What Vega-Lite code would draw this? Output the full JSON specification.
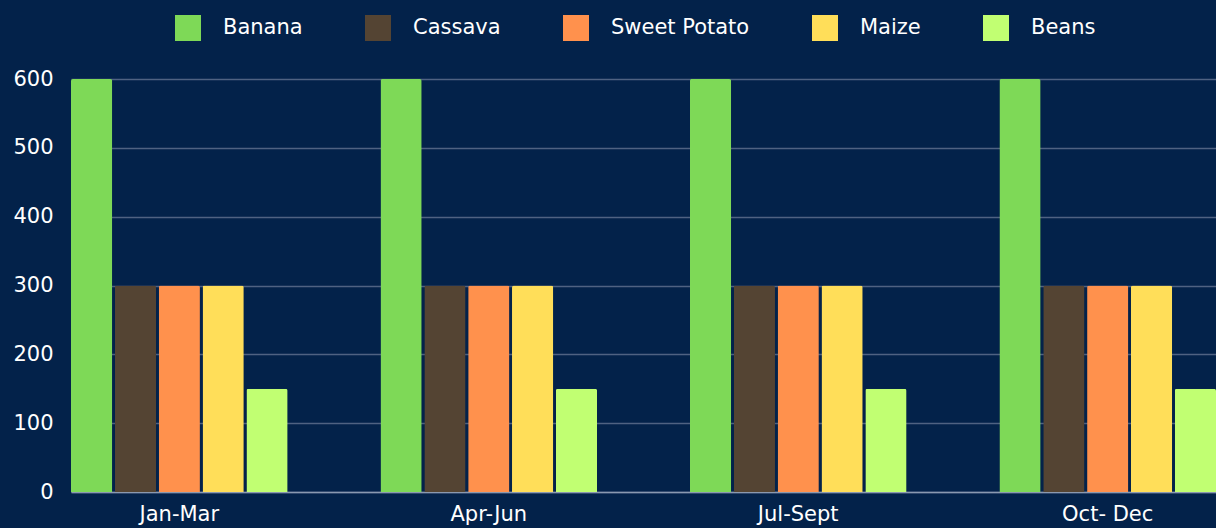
{
  "$schema": "https://vega.github.io/schema/vega-lite/v6.json",
  "width": 1145,
  "height": 413,
  "autosize": {"type": "none"},
  "padding": {"left": 71, "top": 79, "right": 0, "bottom": 36},
  "background": "#03224a",
  "data": {
    "values": [
      {"quarter": "Jan-Mar", "crop": "Banana", "value": 600},
      {"quarter": "Jan-Mar", "crop": "Cassava", "value": 300},
      {"quarter": "Jan-Mar", "crop": "Sweet Potato", "value": 300},
      {"quarter": "Jan-Mar", "crop": "Maize", "value": 300},
      {"quarter": "Jan-Mar", "crop": "Beans", "value": 150},
      {"quarter": "Apr-Jun", "crop": "Banana", "value": 600},
      {"quarter": "Apr-Jun", "crop": "Cassava", "value": 300},
      {"quarter": "Apr-Jun", "crop": "Sweet Potato", "value": 300},
      {"quarter": "Apr-Jun", "crop": "Maize", "value": 300},
      {"quarter": "Apr-Jun", "crop": "Beans", "value": 150},
      {"quarter": "Jul-Sept", "crop": "Banana", "value": 600},
      {"quarter": "Jul-Sept", "crop": "Cassava", "value": 300},
      {"quarter": "Jul-Sept", "crop": "Sweet Potato", "value": 300},
      {"quarter": "Jul-Sept", "crop": "Maize", "value": 300},
      {"quarter": "Jul-Sept", "crop": "Beans", "value": 150},
      {"quarter": "Oct- Dec", "crop": "Banana", "value": 600},
      {"quarter": "Oct- Dec", "crop": "Cassava", "value": 300},
      {"quarter": "Oct- Dec", "crop": "Sweet Potato", "value": 300},
      {"quarter": "Oct- Dec", "crop": "Maize", "value": 300},
      {"quarter": "Oct- Dec", "crop": "Beans", "value": 150}
    ]
  },
  "mark": {"type": "bar", "cornerRadiusTopLeft": 2, "cornerRadiusTopRight": 2},
  "encoding": {
    "x": {
      "field": "quarter",
      "type": "nominal",
      "sort": ["Jan-Mar", "Apr-Jun", "Jul-Sept", "Oct- Dec"],
      "scale": {"paddingInner": 0.3, "paddingOuter": 0},
      "axis": {
        "title": null,
        "labelAngle": 0,
        "labelColor": "#ffffff",
        "labelFontSize": 21,
        "labelFont": "DejaVu Sans",
        "labelPadding": 11,
        "ticks": false,
        "domainColor": "#8a99b0",
        "domainWidth": 1.5,
        "grid": false
      }
    },
    "xOffset": {
      "field": "crop",
      "type": "nominal",
      "sort": ["Banana", "Cassava", "Sweet Potato", "Maize", "Beans"],
      "scale": {"paddingInner": 0.06, "paddingOuter": 0}
    },
    "y": {
      "field": "value",
      "type": "quantitative",
      "scale": {"domain": [0, 600]},
      "axis": {
        "title": null,
        "values": [0, 100, 200, 300, 400, 500, 600],
        "labelColor": "#ffffff",
        "labelFontSize": 21,
        "labelFont": "DejaVu Sans",
        "labelPadding": 18,
        "ticks": false,
        "domain": false,
        "gridColor": "#4f6282",
        "gridWidth": 1.5
      }
    },
    "color": {
      "field": "crop",
      "type": "nominal",
      "sort": ["Banana", "Cassava", "Sweet Potato", "Maize", "Beans"],
      "scale": {
        "domain": ["Banana", "Cassava", "Sweet Potato", "Maize", "Beans"],
        "range": ["#7ed957", "#544433", "#ff914d", "#ffde59", "#c1ff72"]
      },
      "legend": {
        "title": null,
        "orient": "none",
        "direction": "horizontal",
        "legendX": 104,
        "legendY": -64,
        "symbolType": "square",
        "symbolSize": 676,
        "symbolOpacity": 1,
        "symbolStrokeWidth": 0,
        "labelColor": "#ffffff",
        "labelFontSize": 21,
        "labelFont": "DejaVu Sans",
        "labelOffset": 22,
        "columnPadding": 62
      }
    }
  },
  "config": {"view": {"stroke": null}}
}
